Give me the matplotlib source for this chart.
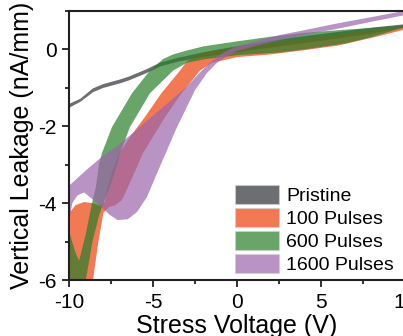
import matplotlib
matplotlib.use("Agg")
import matplotlib.pyplot as plt
from matplotlib.patches import Patch
from matplotlib.ticker import MultipleLocator

plt.rcParams['font.family'] = ['Liberation Sans', 'DejaVu Sans']
plt.rcParams['axes.unicode_minus'] = False

labels = ["Pristine", "100 Pulses", "600 Pulses", "1600 Pulses"]
colors = ["#2e3036", "#ec420c", "#2a7e2a", "#9b65ac"]

# pristine: thin band, x with upper / lower bounds
pristine_x = [-10.3, -10, -9.35, -8.6, -8, -7, -6.5, -5.4, -4.6, -3.5, -2, 0, 2, 4, 6, 8, 10, 10.3]
pristine_hi = [-1.47, -1.40, -1.27, -1.00, -0.89, -0.77, -0.70, -0.50, -0.33, -0.20, -0.06, 0.10, 0.24, 0.36, 0.47, 0.58, 0.67, 0.68]
pristine_lo = [-1.57, -1.50, -1.35, -1.10, -0.99, -0.87, -0.80, -0.60, -0.43, -0.30, -0.18, -0.06, 0.06, 0.18, 0.30, 0.43, 0.58, 0.60]

# 100 pulses outline (x, y)
p100_x = [10.3, 8, 6, 4, 2, 0, -1, -2, -2.6, -3.0,
          -3.39, -4.5, -5.5, -6.4, -7.0, -7.45, -7.7, -7.85,
          -8.2, -8.6, -9.1, -9.6, -10, -10.3,
          -10.3, -8.5,
          -8.57, -8.25, -7.95,
          -7.6, -7.26, -6.85, -6.49,
          -6.0, -5.6, -4.9, -4.3, -3.3, -2.2, -1.5, 0, 2, 4, 6, 8, 10.3]
p100_y = [0.60, 0.50, 0.38, 0.27, 0.16, 0.05, 0.0, -0.10, -0.20, -0.32,
          -0.55, -1.14, -1.77, -2.30, -2.70, -3.20, -3.58, -3.95,
          -4.06, -4.00, -3.97, -4.05, -4.26, -4.40,
          -6.30, -6.30,
          -6.00, -5.00, -4.25,
          -4.10, -4.06, -3.92, -3.58,
          -3.10, -2.70, -2.20, -1.77, -1.14, -0.55, -0.35, -0.20, -0.13, -0.02, 0.10, 0.30, 0.55]

# 600 pulses outline (x, y)
p600_x = [10.3, 8, 6, 4, 2, 0, -2, -3, -3.8, -4.4,
          -5.18, -6.25, -7.44, -8.04, -8.2, -8.4, -8.63, -9.0, -9.4,
          -9.6, -9.85, -10.0, -10.3,
          -10.3, -9.05,
          -9.0, -8.6, -8.2, -7.95, -7.56, -7.1, -6.96, -6.37, -5.18, -3.8, -3.0, -2, 0, 2.5, 4, 6.5, 8, 10.3]
p600_y = [0.64, 0.56, 0.50, 0.43, 0.33, 0.21, 0.08, -0.03, -0.13, -0.25,
          -0.55, -1.14, -2.02, -2.70, -2.96, -3.58, -4.00, -4.80, -5.50,
          -5.30, -4.95, -4.70, -4.60,
          -6.30, -6.30,
          -6.00, -5.00, -4.30, -4.00, -3.58, -2.96, -2.70, -2.02, -1.14, -0.55, -0.35, -0.26, -0.15, -0.08, 0.0, 0.16, 0.32, 0.62]

# 1600 pulses outline (x, y)
p1600_x = [-10.3, -10, -9, -8, -7, -6, -5, -4, -3, -2.2, -1.5, -0.8, 0, 1, 2.5, 4, 6, 8, 10.3,
           10.3, 8, 6, 4, 2.5, 1, 0, -0.6, -1.2, -1.8, -2.5, -3.1, -3.6, -4.6, -5.36, -5.95,
           -6.5, -7.1, -7.6, -8.1, -8.6, -9.1, -9.5, -9.8, -10, -10.3]
p1600_y = [-3.65, -3.55, -3.15, -2.78, -2.47, -2.10, -1.72, -1.35, -0.97, -0.60, -0.30, -0.08, 0.09, 0.20, 0.37, 0.50, 0.68, 0.84, 1.03,
           0.92, 0.72, 0.54, 0.38, 0.24, 0.08, -0.04, -0.17, -0.35, -0.62, -1.06, -1.60, -2.05, -3.06, -3.84, -4.23,
           -4.42, -4.44, -4.30, -4.08, -3.90, -3.72, -3.80, -4.00, -4.45, -4.55]

fig = plt.figure(figsize=(4.03, 3.36), dpi=100)
ax = fig.add_axes([69 / 403, 56 / 336, 336 / 403, 269 / 336])

alpha = 0.7
ax.fill_between(pristine_x, pristine_lo, pristine_hi, color=colors[0], alpha=alpha, lw=0)
ax.fill(p100_x, p100_y, color=colors[1], alpha=alpha, lw=0)
ax.fill(p600_x, p600_y, color=colors[2], alpha=alpha, lw=0)
ax.fill(p1600_x, p1600_y, color=colors[3], alpha=alpha, lw=0)

ax.set_xlim(-10, 10)
ax.set_ylim(-6, 1)
ax.set_xticks([-10, -5, 0, 5, 10])
ax.set_yticks([-6, -4, -2, 0])
ax.xaxis.set_minor_locator(MultipleLocator(2.5))
ax.yaxis.set_minor_locator(MultipleLocator(1))
ax.tick_params(which='major', direction='out', length=5, width=1.3, labelsize=15, pad=4, color='#231f20')
ax.tick_params(which='minor', direction='out', length=3, width=1.3, color='#231f20')
ax.tick_params(top=False, right=False, which='both')
for s in ax.spines.values():
    s.set_linewidth(1.5)
    s.set_color('#231f20')

ax.set_xlabel("Stress Voltage (V)", fontsize=18)
ax.set_ylabel("Vertical Leakage (nA/mm)", fontsize=18)
ax.xaxis.set_label_coords(0.5, -0.125)
ax.yaxis.set_label_coords(-0.105, 0.5)

handles = [Patch(facecolor=c, alpha=alpha, edgecolor='#cfcfcf', lw=0.8) for c in colors]
fig.legend(handles, labels, loc='lower left', bbox_to_anchor=(235 / 403, 62 / 336),
           bbox_transform=fig.transFigure, frameon=False, fontsize=14,
           borderpad=0, borderaxespad=0, handlelength=2.27, handleheight=1.13,
           labelspacing=0.14, handletextpad=0.36)

fig.savefig("out.png", dpi=100)
